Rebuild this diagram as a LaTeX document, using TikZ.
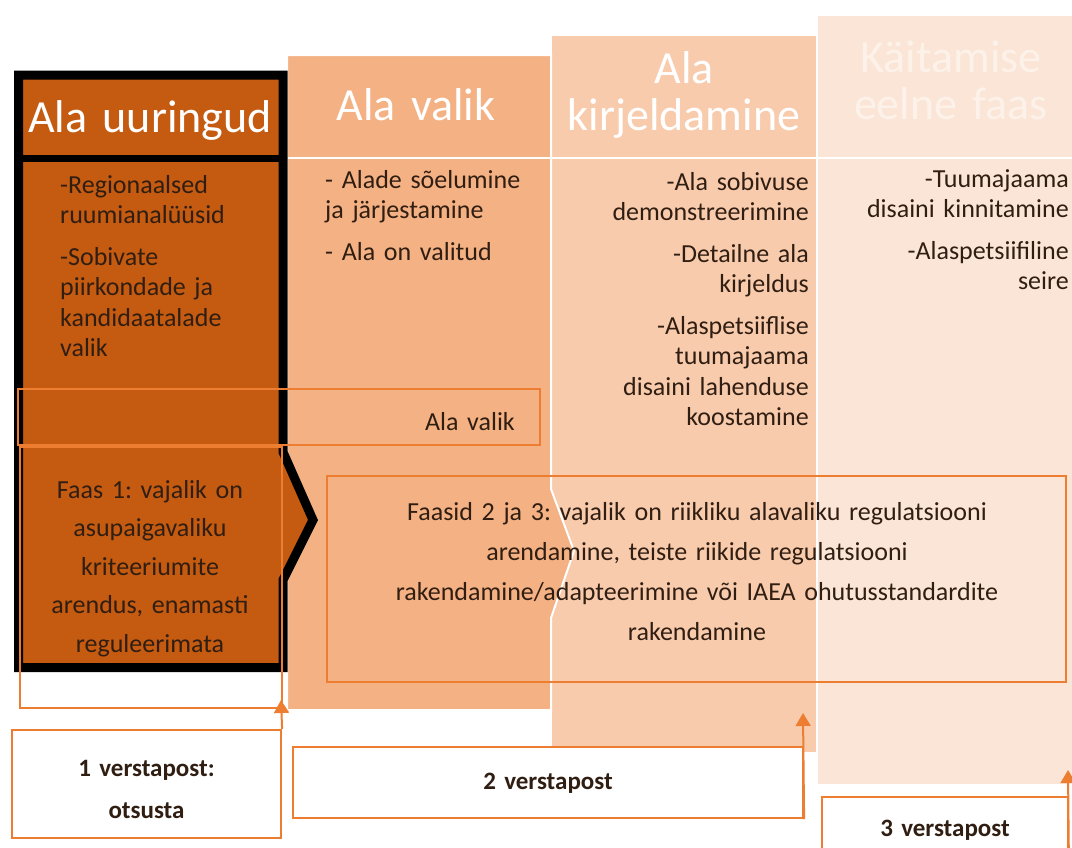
\documentclass[tikz,border=0pt]{standalone}
\usepackage{fontspec}
\setmainfont{Carlito}
\usetikzlibrary{arrows.meta}
\definecolor{cA}{RGB}{197,90,17}
\definecolor{cB}{RGB}{244,177,131}
\definecolor{cC}{RGB}{248,203,173}
\definecolor{cD}{RGB}{251,229,214}
\definecolor{orng}{RGB}{237,125,49}
\definecolor{txt}{RGB}{48,30,18}
\definecolor{hdD}{RGB}{253,242,234}
\frenchspacing
\begin{document}
\begin{tikzpicture}[x=1pt,y=-1pt,
  frame/.style={draw=orng,line width=2.2pt},
  arr/.style={draw=orng,line width=2pt,-{Triangle[length=13pt,width=15pt]}},
  hdr/.style={text=white,font=\fontsize{46}{47}\selectfont,inner sep=0pt,text width=300pt,align=center},
  body/.style={text=txt,font=\fontsize{26}{30.5}\selectfont,inner sep=0pt,text width=280pt},
  mile/.style={draw=orng,line width=2.2pt,fill=white,inner sep=0pt},
  miletext/.style={text=txt,font=\bfseries\fontsize{25}{42}\selectfont,inner sep=0pt,text width=260pt,align=center}
]
\useasboundingbox (0,0) rectangle (1072,847);
\clip (0,0) rectangle (1072,847);
\fill[white] (0,0) rectangle (1072,847);

% columns
\filldraw[fill=cD,draw=white,line width=2pt] (817,15) rectangle (1090,785);
\filldraw[fill=cC,draw=white,line width=2pt] (551,35) rectangle (817,753);
\filldraw[fill=cB,draw=white,line width=2pt] (287,55) -- (551,55) -- (551,489) -- (574,551) -- (551,618) -- (551,710) -- (287,710) -- cycle;
\draw[white,line width=2.5pt] (287,158) -- (1072,158);
\filldraw[fill=cA,draw=black,line width=9pt,line join=miter] (18.5,75) -- (283,75) -- (283,452) -- (313,520) -- (283,580) -- (283,667.5) -- (18.5,667.5) -- cycle;
\draw[black,line width=7pt] (18.5,158) -- (283,158);

% headers
\node[hdr,anchor=base] (h1) at (150,132) {Ala uuringud};
\node[hdr,anchor=base] (h2) at (416,120) {Ala valik};
\node[hdr,anchor=base] (h3) at (684,83) {Ala\\kirjeldamine};
\node[hdr,anchor=base,text=hdD] (h4) at (951,72) {Käitamise\\eelne faas};

% bodies
\node[body,anchor=base west,align=left] (b1) at (60,193)
  {-Regionaalsed\\ruumianalüüsid\\[11pt]-Sobivate\\piirkondade ja\\kandidaatalade\\valik};
\node[body,anchor=base west,align=left] (b2) at (325,188)
  {- Alade sõelumine\\ja järjestamine\\[11pt]- Ala on valitud};
\node[body,anchor=base east,align=right] (b3) at (809,190)
  {-Ala sobivuse\\demonstreerimine\\[11pt]-Detailne ala\\kirjeldus\\[11pt]-Alaspetsiiflise\\tuumajaama\\disaini lahenduse\\koostamine};
\node[body,anchor=base east,align=right] (b4) at (1069,187)
  {-Tuumajaama\\disaini kinnitamine\\[11pt]-Alaspetsiifiline\\seire};

% frames
\draw[frame] (18,389) rectangle (540,445);
\node[body,anchor=base east,align=right] (valik) at (515,430) {Ala valik};
\draw[frame] (20,447) rectangle (282,708);
\node[body,anchor=base,align=center,font=\fontsize{26}{38.5}\selectfont,text width=260pt] (faas1) at (150,498)
  {Faas 1: vajalik on\\asupaigavaliku\\kriteeriumite\\arendus, enamasti\\reguleerimata};
\draw[frame] (327,476) rectangle (1066,682);
\node[body,anchor=base,align=center,font=\fontsize{26}{40}\selectfont,text width=730pt] (faas23) at (697,520)
  {Faasid 2 ja 3: vajalik on riikliku alavaliku regulatsiooni\\arendamine, teiste riikide regulatsiooni\\rakendamine/adapteerimine või IAEA ohutusstandardite\\rakendamine};

% milestones
\node[mile,minimum width=269pt,minimum height=108pt] (m1) at (146.5,784) {};
\node[miletext,anchor=base] (m1t) at (146.5,776) {1 verstapost:\\otsusta};
\node[mile,minimum width=510pt,minimum height=71pt] (m2) at (548,782.5) {};
\node[miletext,anchor=base] (m2t) at (548,789) {2 verstapost};
\node[mile,minimum width=246pt,minimum height=83pt] (m3) at (945,838.5) {};
\node[miletext,anchor=base] (m3t) at (945,836) {3 verstapost};

\coordinate (t1) at (281,700);
\coordinate (t2) at (803,713);
\coordinate (t3) at (1068,770);
\draw[arr] (m1.north east) -- (t1);
\draw[arr] (m2.south east) -- (t2);
\draw[arr] (m3.south east) -- (t3);
\end{tikzpicture}
\end{document}
